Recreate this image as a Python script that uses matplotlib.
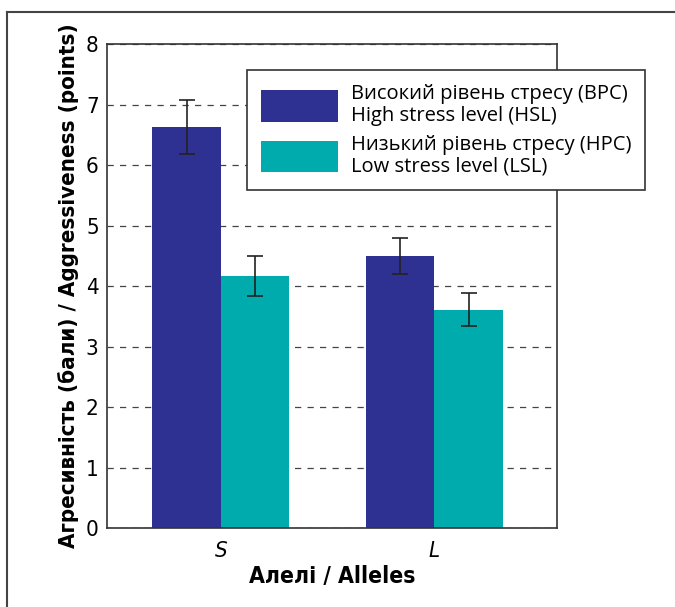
import numpy as np
import matplotlib.pyplot as plt
from matplotlib.lines import Line2D

# Data
alleles = ['S', 'L']
high_stress = [6.63, 4.50]
high_err = [0.45, 0.30]
low_stress = [4.16, 3.61]
low_err = [0.33, 0.27]
legend_labels = ['Високий рівень стресу (ВРС)\nHigh stress level (HSL)',
                 'Низький рівень стресу (НРС)\nLow stress level (LSL)']
yticks = [0, 1, 2, 3, 4, 5, 6, 7, 8]

dark_blue = '#2E3192'
teal = '#00ABAD'

plt.rcParams['font.family'] = ['DejaVu Sans']
plt.rcParams['font.stretch'] = 'condensed'

fig = plt.figure(figsize=(6.75, 6.07), dpi=100)
ax = fig.add_axes([0.1585, 0.130, 0.667, 0.7975])

x = np.arange(len(alleles))
w = 0.32
ax.bar(x - w / 2, high_stress, w, color=dark_blue, zorder=2, label=legend_labels[0])
ax.bar(x + w / 2, low_stress, w, color=teal, zorder=2, label=legend_labels[1])
ax.errorbar(x - w / 2, high_stress, yerr=high_err, fmt='none', ecolor='#222222',
            elinewidth=1.2, capsize=5.5, capthick=1.2, zorder=3)
ax.errorbar(x + w / 2, low_stress, yerr=low_err, fmt='none', ecolor='#222222',
            elinewidth=1.2, capsize=5.5, capthick=1.2, zorder=3)

ax.set_ylim(0, 8)
ax.set_xlim(-0.533, 1.575)
ax.set_yticks(yticks)
ax.set_yticklabels([str(t) for t in yticks], fontsize=16)
ax.set_xticks(x)
ax.set_xticklabels(alleles, fontsize=16, style='italic')
ax.tick_params(length=0, pad=6)
ax.tick_params(axis='x', pad=9)
ax.yaxis.grid(True, linestyle=(0, (5, 5)), color='#444444', linewidth=0.9, zorder=0)
ax.set_axisbelow(True)
for s in ax.spines.values():
    s.set_color('#333333')
    s.set_linewidth(1.2)

ax.set_ylabel('Агресивність (бали) / Aggressiveness (points)', fontsize=16,
              fontweight='bold', labelpad=5)
ax.set_xlabel('Алелі / Alleles', fontsize=16.5, fontweight='bold', labelpad=3)

leg = ax.legend(loc='upper left', bbox_to_anchor=(247 / 675, 1 - 70 / 607),
                bbox_transform=fig.transFigure,
                handlelength=3.8, handleheight=2.0, handletextpad=0.65,
                labelspacing=0.45, borderpad=0.7, borderaxespad=0,
                frameon=True, fancybox=False,
                prop={'family': ['Open Sans', 'DejaVu Sans'], 'size': 14.5,
                      'stretch': 'normal'})
for t in leg.get_texts():
    t.set_linespacing(1.1)
leg.get_frame().set_edgecolor('#333333')
leg.get_frame().set_linewidth(1.2)
leg.get_frame().set_alpha(1)
leg.set_zorder(5)

# outer frame of the figure
fig.add_artist(Line2D([7 / 675, 1.0], [1 - 12 / 607, 1 - 12 / 607],
                      transform=fig.transFigure, color='#444444', linewidth=1.5))
fig.add_artist(Line2D([7 / 675, 7 / 675], [0, 1 - 12 / 607],
                      transform=fig.transFigure, color='#444444', linewidth=1.5))

fig.savefig('out.png', dpi=100)
